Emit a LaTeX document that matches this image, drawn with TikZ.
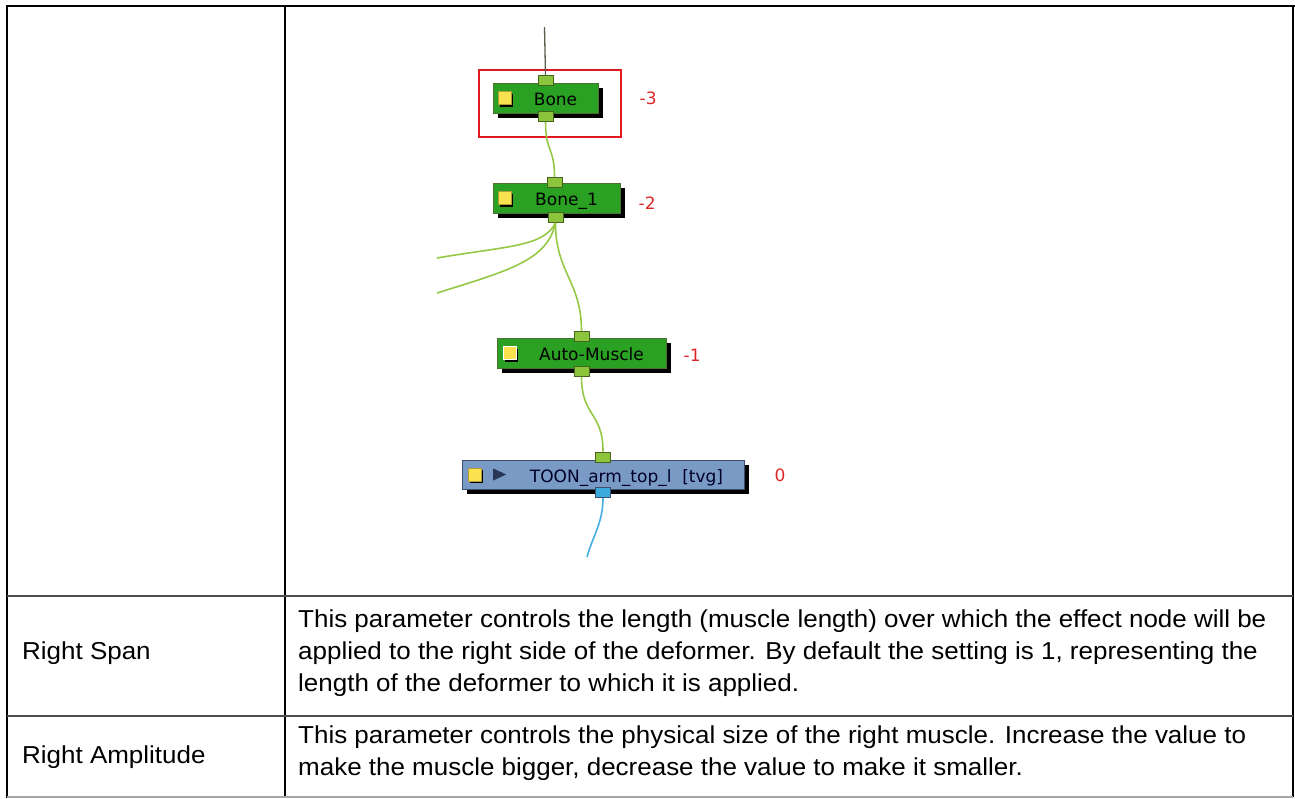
\documentclass[tikz,border=0pt]{standalone}
\usepackage{fontspec}
\newfontfamily\nodefont{DejaVu Sans}
\newfontfamily\tabfont[FakeStretch=1.06]{Liberation Sans}
\definecolor{modGreen}{RGB}{42,161,34}
\definecolor{modEdge}{RGB}{78,110,50}
\definecolor{portGreen}{RGB}{140,196,60}
\definecolor{portEdge}{RGB}{70,100,30}
\definecolor{toonBlue}{RGB}{122,154,198}
\definecolor{toonEdge}{RGB}{60,80,110}
\definecolor{portBlue}{RGB}{60,170,220}
\definecolor{wireGreen}{RGB}{150,200,70}
\definecolor{wireBlue}{RGB}{70,174,224}
\definecolor{swatchYellow}{RGB}{250,225,80}
\definecolor{depthRed}{RGB}{220,40,40}
\definecolor{frameRed}{RGB}{225,25,30}
\definecolor{leadGray}{RGB}{85,95,75}
\definecolor{playNavy}{RGB}{40,55,85}
\usetikzlibrary{positioning,shadows,shapes.geometric,calc}

\begin{document}
\begin{tikzpicture}[x=1pt, y=-1pt,
  module/.style={draw=modEdge, line width=1pt, fill=modGreen, minimum height=30pt,
                 inner sep=0pt, drop shadow={shadow xshift=5pt, shadow yshift=-5pt,
                 fill=black, opacity=1}},
  port/.style={draw=portEdge, line width=0.8pt, fill=portGreen, minimum width=15pt,
               minimum height=10pt, inner sep=0pt},
  swatch/.style={draw=swatchYellow!70!black, line width=0.5pt, fill=swatchYellow,
                 minimum size=13pt, inner sep=0pt, anchor=west,
                 drop shadow={shadow xshift=2pt, shadow yshift=-2pt, fill=black, opacity=1}},
  modtext/.style={font=\nodefont\fontsize{17}{20}\selectfont, inner sep=0pt, anchor=base},
  depth/.style={font=\nodefont\fontsize{17}{20}\selectfont, text=depthRed, inner sep=0pt},
  wire/.style={draw=wireGreen, line width=1.6pt},
  cell/.style={font=\tabfont\fontsize{24.5}{32}\selectfont, inner sep=0pt, align=left}
]
  \fill[white] (0,0) rectangle (1295,798);
  \useasboundingbox (0,0) rectangle (1295,798);

  % table frame
  \draw[line width=2.5pt] (6,6) -- (1295,6);
  \draw[line width=2.5pt] (7,5) -- (7,798);
  \draw[line width=2.5pt] (285,6) -- (285,798);
  \draw[line width=2.5pt] (1293,5) -- (1293,797);
  \draw[line width=2pt, black!70] (7,596) -- (1293,596);
  \draw[line width=2pt, black!70] (7,716) -- (1293,716);
  \draw[line width=1.5pt, black!35] (7,797) -- (1293,797);

  % node view
  \node[module, minimum width=105pt] (bone)   at (545.5,98)  {};
  \node[module, minimum width=127pt] (bone1)  at (556.5,198) {};
  \node[module, minimum width=169pt] (muscle) at (581.5,353) {};
  \node[module, fill=toonBlue, draw=toonEdge, minimum width=282pt,
        minimum height=29pt] (toon) at (603,474.5) {};

  \node[swatch] (bone-sw)   at ([xshift=5pt]bone.west)  {};
  \node[swatch] (bone1-sw)  at ([xshift=5pt]bone1.west) {};
  \node[swatch, draw=white, line width=1.5pt, drop shadow={opacity=0}]
        (muscle-sw) at ([xshift=6pt]muscle.west) {};
  \node[swatch] (toon-sw)   at ([xshift=6pt]toon.west)  {};
  \node[isosceles triangle, isosceles triangle stretches, fill=playNavy,
        minimum width=12pt, minimum height=13pt, inner sep=0pt,
        right=12pt of toon-sw] (toon-play) {};

  \node[modtext] (bone-txt)   at ([xshift=10pt,yshift=-7pt]bone.center)   {Bone};
  \node[modtext] (bone1-txt)  at ([xshift=10pt,yshift=-7pt]bone1.center)  {Bone\_1};
  \node[modtext] (muscle-txt) at ([xshift=10pt,yshift=-7pt]muscle.center) {Auto-Muscle};
  \node[modtext, text=black!85!blue] (toon-txt) at ([xshift=23.5pt,yshift=-7.5pt]toon.center)
        {TOON\_arm\_top\_l\ \ [tvg]};

  \node[port] (bone-in)    at ([yshift=2pt]bone.north)               {};
  \node[port] (bone-out)   at ([yshift=-3pt]bone.south)              {};
  \node[port] (bone1-in)   at ([xshift=-2pt]bone1.north)             {};
  \node[port] (bone1-out)  at ([xshift=-1pt,yshift=-4pt]bone1.south) {};
  \node[port] (muscle-in)  at ([yshift=1pt]muscle.north)             {};
  \node[port] (muscle-out) at ([yshift=-3pt]muscle.south)            {};
  \node[port] (toon-in)    at ([yshift=2.5pt]toon.north)             {};
  \node[port, fill=portBlue, draw=toonEdge] (toon-out) at ([yshift=-3pt]toon.south) {};

  \node[draw=frameRed, line width=2pt, minimum width=142pt, minimum height=67pt,
        inner sep=0pt] (sel) at (550,103.5) {};

  \node[depth, right=41pt of bone]                (bone-d)   {-3};
  \node[depth, right=18pt of bone1, yshift=-5pt]  (bone1-d)  {-2};
  \node[depth, right=17pt of muscle, yshift=-2pt] (muscle-d) {-1};
  \node[depth, right=30pt of toon, yshift=-1pt]   (toon-d)   {0};

  \coordinate (lead)  at (544.5,27);
  \coordinate (left1) at (437,258);
  \coordinate (left2) at (437,293);
  \coordinate (tail)  at (587,557);

  \draw[line width=1.3pt, leadGray] (lead) -- (bone-in.north);
  \draw[wire] (bone-out.south) .. controls +(0,30) and +(0,-30) .. (bone1-in.north);
  \draw[wire] (bone1-out.south) .. controls +(0,50) and +(0,-50) .. (muscle-in.north);
  \draw[wire] (bone1-out.south) .. controls +(-12,24) and +(70,-12) .. (left1);
  \draw[wire] (bone1-out.south) .. controls +(-8,38) and +(70,-22) .. (left2);
  \draw[wire] (muscle-out.south) .. controls +(0,40) and +(0,-40) .. (toon-in.north);
  \draw[wire, wireBlue] (toon-out.south) .. controls +(0,25) and +(6,-22) .. (tail);

  % parameter rows
  \node[cell, anchor=base west] (span) at (22,659) {Right Span};
  \node[cell, anchor=base west] (amp)  at (22,763) {Right Amplitude};
  \node[cell, anchor=north west] (span-txt) at (298,610)
    {This parameter controls the length (muscle length) over which the effect node will be\\
     applied to the right side of the deformer. By default the setting is 1, representing the\\
     length of the deformer to which it is applied.};
  \node[cell, anchor=north west] (amp-txt) at (298,726)
    {This parameter controls the physical size of the right muscle. Increase the value to\\
     make the muscle bigger, decrease the value to make it smaller.};
\end{tikzpicture}
\end{document}
